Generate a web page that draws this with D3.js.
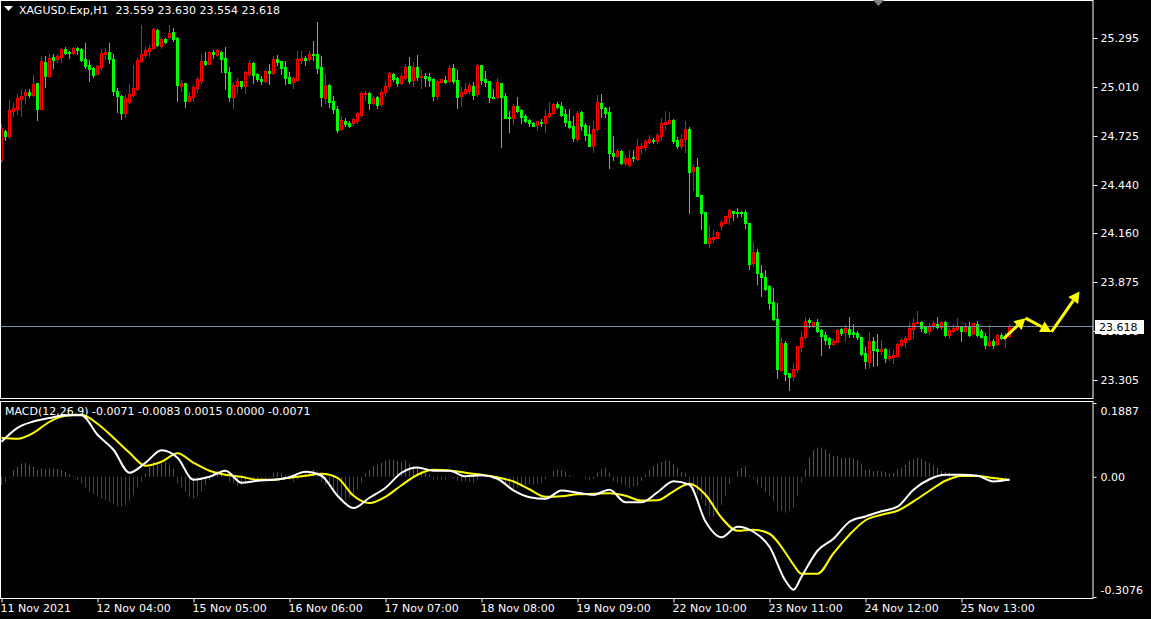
<!DOCTYPE html>
<html><head><meta charset="utf-8">
<script src="https://cdn.jsdelivr.net/npm/d3@7"></script>
<style>html,body{margin:0;padding:0;background:#000;overflow:hidden}svg{display:block}</style>
</head><body>
<svg id="chart" width="1151" height="619"></svg>
<script>
// ---------------- DATA ----------------
const symbolTitle = "XAGUSD.Exp,H1";
const lastOHLC = ["23.559", "23.630", "23.554", "23.618"];
const opens = [24.585,24.754,24.725,24.870,24.882,24.940,24.964,24.981,24.964,25.033,24.882,25.156,25.074,25.185,25.173,25.185,25.231,25.214,25.208,25.237,25.231,25.173,25.138,25.121,25.086,25.127,25.202,25.214,25.173,24.987,24.958,24.859,24.923,24.964,24.998,25.161,25.196,25.220,25.237,25.342,25.248,25.289,25.301,25.330,25.295,25.016,25.033,24.929,24.952,25.004,25.045,25.161,25.144,25.214,25.196,25.214,25.179,25.097,24.952,25.016,25.045,25.016,25.086,25.150,25.086,25.057,25.045,25.103,25.092,25.173,25.161,25.127,25.068,25.039,25.051,25.167,25.179,25.173,25.202,25.202,25.127,24.946,25.022,24.929,24.882,24.766,24.812,24.801,24.801,24.812,24.847,24.969,24.975,24.917,24.952,24.911,24.981,25.016,25.086,25.062,25.033,25.062,25.132,25.051,25.127,25.068,25.074,25.068,25.057,24.958,25.039,25.051,25.045,25.121,25.051,24.958,24.975,24.987,25.016,24.969,25.138,25.057,25.045,24.952,24.952,25.033,24.958,24.835,24.830,24.899,24.876,24.841,24.818,24.801,24.789,24.806,24.801,24.841,24.859,24.911,24.899,24.853,24.812,24.783,24.708,24.865,24.789,24.737,24.667,24.766,24.917,24.888,24.865,24.626,24.608,24.638,24.568,24.556,24.603,24.591,24.655,24.661,24.690,24.702,24.696,24.725,24.795,24.801,24.818,24.702,24.667,24.708,24.766,24.521,24.545,24.382,24.283,24.103,24.126,24.132,24.201,24.219,24.254,24.289,24.283,24.283,24.283,24.219,23.986,24.050,23.928,23.905,23.852,23.760,23.661,23.364,23.521,23.346,23.329,23.370,23.498,23.556,23.655,23.620,23.643,23.597,23.567,23.550,23.515,23.527,23.602,23.585,23.602,23.585,23.579,23.556,23.463,23.410,23.532,23.486,23.474,23.486,23.434,23.439,23.445,23.509,23.527,23.544,23.602,23.637,23.643,23.614,23.591,23.620,23.632,23.614,23.643,23.567,23.591,23.602,23.620,23.591,23.620,23.573,23.632,23.591,23.562,23.509,23.532,23.515,23.567,23.550,23.559];
const highs = [24.795,24.760,24.934,24.917,24.969,24.998,24.998,24.998,25.080,25.033,25.190,25.190,25.202,25.202,25.202,25.237,25.243,25.220,25.240,25.243,25.237,25.266,25.167,25.127,25.138,25.231,25.237,25.266,25.202,25.004,24.964,24.964,25.028,25.138,25.185,25.371,25.243,25.254,25.353,25.348,25.295,25.295,25.371,25.353,25.301,25.051,25.033,24.981,25.022,25.068,25.202,25.214,25.220,25.225,25.231,25.220,25.243,25.127,25.033,25.062,25.045,25.103,25.167,25.156,25.092,25.074,25.109,25.144,25.190,25.196,25.161,25.161,25.097,25.068,25.220,25.220,25.190,25.220,25.278,25.388,25.190,25.086,25.028,24.958,24.899,24.841,24.830,24.812,24.830,24.865,24.981,24.987,24.981,24.958,24.958,24.998,25.045,25.097,25.092,25.068,25.092,25.144,25.185,25.156,25.196,25.109,25.092,25.092,25.062,25.051,25.057,25.074,25.138,25.144,25.109,25.010,25.033,25.033,25.039,25.144,25.138,25.103,25.045,24.998,25.062,25.033,24.975,24.870,24.911,24.952,24.882,24.853,24.824,24.806,24.812,24.824,24.876,24.923,24.917,24.923,24.923,24.882,24.882,24.841,24.870,24.870,24.801,24.783,24.812,24.964,24.969,24.894,24.894,24.725,24.649,24.644,24.614,24.644,24.644,24.708,24.684,24.702,24.731,24.713,24.743,24.830,24.870,24.865,24.824,24.719,24.737,24.812,24.777,24.562,24.597,24.382,24.283,24.202,24.178,24.172,24.236,24.260,24.300,24.289,24.306,24.289,24.295,24.219,24.109,24.068,23.975,23.946,23.858,23.841,23.754,23.556,23.532,23.346,23.405,23.503,23.591,23.672,23.666,23.643,23.661,23.602,23.585,23.556,23.544,23.602,23.608,23.626,23.672,23.632,23.591,23.556,23.498,23.585,23.556,23.573,23.538,23.492,23.486,23.480,23.521,23.550,23.562,23.643,23.666,23.707,23.649,23.620,23.637,23.649,23.672,23.649,23.649,23.608,23.632,23.666,23.620,23.637,23.643,23.637,23.649,23.602,23.579,23.626,23.544,23.573,23.579,23.579,23.630];
const lows = [24.574,24.702,24.713,24.841,24.853,24.841,24.917,24.952,24.958,24.818,24.882,25.010,25.068,25.121,25.156,25.156,25.202,25.179,25.202,25.202,25.161,25.121,25.045,25.068,25.086,25.109,25.173,25.150,24.964,24.865,24.824,24.835,24.917,24.958,24.993,25.156,25.185,25.190,25.231,25.248,25.237,25.266,25.295,25.278,24.929,24.987,24.894,24.923,24.929,24.981,25.033,25.138,25.144,25.179,25.190,25.097,24.998,24.929,24.888,24.975,25.004,24.975,25.080,25.033,25.045,25.028,25.039,25.028,25.086,25.138,25.086,25.028,25.033,25.004,25.045,25.150,25.138,25.167,25.167,25.092,24.899,24.917,24.894,24.859,24.748,24.760,24.783,24.777,24.789,24.801,24.841,24.934,24.882,24.911,24.888,24.899,24.958,25.004,25.045,25.016,25.028,25.057,25.033,25.016,25.051,25.004,25.016,25.016,24.934,24.940,25.039,25.033,25.039,25.033,24.888,24.899,24.969,24.975,24.940,24.958,25.028,25.016,24.923,24.946,24.946,24.661,24.830,24.748,24.795,24.865,24.801,24.806,24.783,24.783,24.760,24.783,24.748,24.835,24.853,24.888,24.841,24.783,24.772,24.696,24.696,24.760,24.702,24.667,24.632,24.760,24.835,24.835,24.539,24.585,24.603,24.562,24.556,24.550,24.579,24.585,24.626,24.644,24.684,24.684,24.684,24.702,24.766,24.801,24.684,24.655,24.655,24.632,24.277,24.411,24.376,24.184,24.103,24.079,24.109,24.132,24.184,24.219,24.213,24.236,24.254,24.260,24.190,23.951,23.969,23.864,23.794,23.829,23.719,23.655,23.317,23.364,23.306,23.248,23.306,23.352,23.474,23.550,23.614,23.614,23.585,23.451,23.515,23.492,23.509,23.527,23.567,23.532,23.556,23.556,23.544,23.451,23.375,23.381,23.387,23.393,23.457,23.410,23.422,23.404,23.439,23.503,23.498,23.538,23.550,23.637,23.591,23.579,23.573,23.608,23.608,23.602,23.562,23.550,23.585,23.597,23.532,23.585,23.562,23.573,23.562,23.556,23.492,23.503,23.492,23.509,23.544,23.498,23.554];
const closes = [24.772,24.725,24.876,24.888,24.946,24.958,24.981,24.964,25.028,24.882,25.161,25.074,25.179,25.167,25.190,25.231,25.208,25.208,25.236,25.225,25.167,25.132,25.115,25.080,25.132,25.208,25.214,25.173,24.987,24.958,24.859,24.946,24.969,25.004,25.167,25.202,25.225,25.237,25.348,25.254,25.289,25.272,25.324,25.289,25.022,25.033,24.929,24.958,25.010,25.057,25.161,25.144,25.214,25.202,25.225,25.173,25.097,24.952,25.022,25.045,25.016,25.097,25.150,25.080,25.057,25.045,25.103,25.092,25.173,25.156,25.121,25.062,25.033,25.062,25.173,25.179,25.167,25.202,25.196,25.121,24.952,25.022,24.923,24.882,24.760,24.818,24.795,24.783,24.824,24.859,24.975,24.975,24.917,24.946,24.905,24.981,25.016,25.092,25.057,25.033,25.074,25.127,25.045,25.127,25.068,25.074,25.062,25.051,24.958,25.045,25.057,25.039,25.121,25.045,24.952,24.981,24.998,25.022,24.964,25.138,25.051,25.039,24.952,24.946,25.039,24.952,24.830,24.830,24.899,24.870,24.835,24.812,24.801,24.783,24.812,24.801,24.841,24.859,24.911,24.894,24.847,24.806,24.777,24.713,24.859,24.783,24.731,24.667,24.766,24.923,24.888,24.859,24.626,24.608,24.638,24.568,24.597,24.597,24.597,24.667,24.667,24.696,24.708,24.696,24.731,24.801,24.806,24.818,24.696,24.667,24.708,24.766,24.516,24.545,24.376,24.277,24.103,24.132,24.138,24.167,24.225,24.260,24.295,24.277,24.277,24.277,24.219,23.980,24.050,23.928,23.905,23.835,23.754,23.661,23.370,23.521,23.341,23.323,23.370,23.503,23.556,23.649,23.643,23.643,23.591,23.562,23.538,23.515,23.532,23.597,23.579,23.608,23.573,23.573,23.556,23.457,23.416,23.532,23.480,23.474,23.486,23.434,23.445,23.451,23.515,23.538,23.550,23.608,23.637,23.643,23.608,23.585,23.620,23.637,23.614,23.643,23.567,23.597,23.608,23.620,23.591,23.614,23.567,23.637,23.567,23.556,23.509,23.532,23.509,23.567,23.550,23.562,23.618];
const timeLabels = ["11 Nov 2021","12 Nov 04:00","15 Nov 05:00","16 Nov 06:00","17 Nov 07:00","18 Nov 08:00","19 Nov 09:00","22 Nov 10:00","23 Nov 11:00","24 Nov 12:00","25 Nov 13:00"];
const timeLabelBars = [0,24,48,72,96,120,144,168,192,216,240];
const priceTicks = [25.295,25.010,24.725,24.440,24.160,23.875,23.590,23.305];
const currentPrice = 23.618;
const macdTicks = [0.1887, 0, -0.3076];
const macdTickText = ["0.1887","0.00","-0.3076"];
const macdLegend = "MACD(12,26,9) -0.0071 -0.0083 0.0015 0.0000 -0.0071";
const macdBars = [0,4,8,12,16,20,24,28,32,36,40,44,48,52,56,60,64,68,72,76,80,84,88,92,96,100,104,108,112,116,120,124,128,132,136,140,144,148,152,156,160,164,168,172,176,180,184,188,192,196,198,200,204,208,212,216,220,224,228,232,236,240,244,248,252];
const macdMain = [0.0895,0.1253,0.1414,0.1501,0.1573,0.1573,0.1074,0.0691,0.0102,0.0358,0.0678,0.0486,-0.0077,0.0000,0.0153,-0.0153,-0.0102,-0.0077,-0.0013,0.0128,0.0026,-0.0486,-0.0801,-0.0537,-0.0281,0.0102,0.0238,0.0153,0.0153,0.0013,0.0038,-0.0051,-0.0350,-0.0524,-0.0563,-0.0350,-0.0409,-0.0460,-0.0332,-0.0652,-0.0652,-0.0396,-0.0115,-0.0205,-0.1143,-0.1547,-0.1279,-0.1407,-0.1790,-0.2660,-0.2890,-0.2558,-0.1893,-0.1586,-0.1151,-0.1015,-0.0882,-0.0767,-0.0332,-0.0064,0.0051,0.0051,0.0026,-0.0120,-0.0071];
const macdSignal = [0.0997,0.0972,0.1125,0.1407,0.1560,0.1586,0.1355,0.0997,0.0614,0.0281,0.0384,0.0601,0.0358,0.0153,0.0051,0.0000,-0.0077,-0.0077,-0.0026,0.0026,0.0077,-0.0026,-0.0486,-0.0673,-0.0512,-0.0217,0.0051,0.0179,0.0161,0.0102,0.0051,-0.0013,-0.0120,-0.0320,-0.0512,-0.0499,-0.0448,-0.0435,-0.0422,-0.0486,-0.0609,-0.0601,-0.0371,-0.0179,-0.0460,-0.1049,-0.1381,-0.1355,-0.1458,-0.1944,-0.2251,-0.2481,-0.2481,-0.1957,-0.1483,-0.1113,-0.0972,-0.0870,-0.0632,-0.0358,-0.0102,0.0020,0.0020,-0.0033,-0.0083];
const macdHist = [-0.0205,-0.0128,-0.0026,0.0171,0.0256,0.0340,0.0358,0.0299,0.0256,0.0171,0.0212,0.0187,0.0212,0.0212,0.0197,0.0171,0.0128,0.0069,0.0018,-0.0084,-0.0171,-0.0274,-0.0384,-0.0443,-0.0512,-0.0555,-0.0596,-0.0640,-0.0683,-0.0750,-0.0767,-0.0724,-0.0614,-0.0468,-0.0274,-0.0128,0.0084,0.0256,0.0384,0.0325,0.0340,0.0384,0.0299,0.0212,-0.0171,-0.0274,-0.0384,-0.0512,-0.0555,-0.0512,-0.0384,-0.0212,-0.0084,0.0128,0.0171,0.0128,0.0043,-0.0128,-0.0171,-0.0238,-0.0212,-0.0171,-0.0128,-0.0084,-0.0084,-0.0043,-0.0043,-0.0026,0.0102,0.0128,0.0102,0.0043,-0.0084,-0.0128,-0.0069,-0.0026,0.0084,0.0128,0.0171,0.0128,-0.0128,-0.0212,-0.0256,-0.0340,-0.0450,-0.0580,-0.0600,-0.0530,-0.0440,-0.0324,-0.0150,0.0084,0.0171,0.0274,0.0315,0.0358,0.0417,0.0443,0.0427,0.0402,0.0376,0.0417,0.0340,0.0274,0.0230,0.0146,0.0102,0.0059,-0.0069,-0.0069,-0.0069,-0.0069,-0.0008,-0.0043,-0.0095,-0.0110,-0.0110,-0.0136,-0.0153,-0.0069,0.0000,0.0013,0.0000,-0.0069,-0.0110,-0.0136,-0.0197,-0.0307,-0.0325,-0.0281,-0.0256,-0.0223,-0.0197,-0.0197,-0.0171,-0.0153,-0.0069,0.0000,0.0146,0.0187,0.0171,0.0120,0.0033,0.0008,-0.0008,0.0000,-0.0051,-0.0095,-0.0051,0.0102,0.0187,0.0230,0.0102,-0.0110,-0.0153,-0.0197,-0.0223,-0.0281,-0.0256,-0.0223,-0.0110,0.0059,0.0187,0.0274,0.0340,0.0376,0.0417,0.0402,0.0315,0.0230,0.0120,0.0090,-0.0153,-0.0281,-0.0453,-0.0581,-0.0750,-0.1023,-0.1023,-0.0921,-0.0734,-0.0494,-0.0197,0.0000,0.0146,0.0230,0.0274,0.0033,-0.0043,-0.0197,-0.0281,-0.0391,-0.0494,-0.0622,-0.0877,-0.0877,-0.0921,-0.0852,-0.0793,-0.0494,-0.0136,0.0187,0.0486,0.0683,0.0742,0.0742,0.0698,0.0596,0.0530,0.0530,0.0486,0.0486,0.0486,0.0460,0.0427,0.0315,0.0171,0.0187,0.0146,0.0146,0.0146,0.0120,0.0084,0.0102,0.0187,0.0230,0.0299,0.0402,0.0443,0.0486,0.0460,0.0402,0.0358,0.0289,0.0230,0.0146,0.0120,0.0084,0.0018,0.0005,0.0000,0.0000,0.0000,-0.0013,0.0000,-0.0026,-0.0051,-0.0077,-0.0102,-0.0102,-0.0077,-0.0077,0.0015];
// arrow objects (anchored to bar index and price)
const arrowBars = [250.5, 256, 262.5, 269.5];
const arrowPrices = [23.545, 23.665, 23.585, 23.820];

// ---------------- DRAW ----------------
const W = 1151, H = 619;
const n = opens.length;
const plotRight = 1093;
const mainTop = 0, mainBottom = 398;
const subTop = 401, subBottom = 598;
const svg = d3.select("#chart");
svg.append("rect").attr("width", W).attr("height", H).attr("fill", "#000");

const xLeft = d3.scaleLinear().domain([0, n]).range([0, 4 * n]);
const xc = i => xLeft(i) + 1.5;
const yP = d3.scaleLinear().domain([23.305, 25.295]).range([380, 38]);
const yM = d3.scaleLinear().domain([-0.3076, 0.1887]).range([597, 403]);

const defs = svg.append("defs");
defs.append("clipPath").attr("id", "mainClip").append("rect").attr("x", 0).attr("y", 1).attr("width", plotRight).attr("height", mainBottom - 1);
defs.append("clipPath").attr("id", "subClip").append("rect").attr("x", 0).attr("y", subTop + 1).attr("width", plotRight).attr("height", subBottom - subTop - 1);

// ---- candles ----
const gC = svg.append("g").attr("clip-path", "url(#mainClip)");
const idx = d3.range(n);
idx.forEach(i => {
  const o = opens[i], c = closes[i], h = highs[i], l = lows[i];
  const bull = c >= o;
  const col = bull ? "#ff0000" : "#00ff00";
  const x0 = xLeft(i);
  const yT = Math.round(yP(Math.max(o, c)));
  const yB = Math.round(yP(Math.min(o, c)));
  const yH = Math.round(yP(h));
  const yL = Math.round(yP(l));
  const cx = x0 + 1.5;
  gC.append("line").attr("x1", cx).attr("x2", cx).attr("y1", yH).attr("y2", yL + 1)
    .attr("stroke", col).attr("stroke-width", 1);
  if (bull) {
    if (yB - yT < 1) {
      gC.append("rect").attr("x", x0).attr("y", yT).attr("width", 3).attr("height", 1).attr("fill", col);
    } else {
      gC.append("rect").attr("x", x0 + 0.5).attr("y", yT + 0.5).attr("width", 2).attr("height", yB - yT)
        .attr("fill", "#000").attr("stroke", col).attr("stroke-width", 1);
    }
  } else {
    gC.append("rect").attr("x", x0).attr("y", yT).attr("width", 3).attr("height", Math.max(1, yB - yT + 1))
      .attr("fill", col);
  }
});

// ---- current price line ----
svg.append("line").attr("x1", 0).attr("x2", plotRight).attr("y1", Math.round(yP(currentPrice)) + 0.5).attr("y2", Math.round(yP(currentPrice)) + 0.5)
  .attr("stroke", "#8090a0").attr("stroke-width", 1);

// ---- arrows ----
const gA = svg.append("g");
function arrow(x1, y1, x2, y2) {
  const ang = Math.atan2(y2 - y1, x2 - x1);
  const len = Math.hypot(x2 - x1, y2 - y1);
  const hl = 11, hw = 6;
  const bx = x2 - Math.cos(ang) * hl, by = y2 - Math.sin(ang) * hl;
  const px = -Math.sin(ang), py = Math.cos(ang);
  gA.append("line").attr("x1", x1).attr("y1", y1).attr("x2", bx).attr("y2", by)
    .attr("stroke", "#ffff00").attr("stroke-width", 3);
  gA.append("path").attr("d", `M${x2},${y2}L${bx + px * hw},${by + py * hw}L${bx - px * hw},${by - py * hw}Z`).attr("fill", "#ffff00");
}
for (let k = 0; k < arrowBars.length - 1; k++) {
  arrow(xc(arrowBars[k]), yP(arrowPrices[k]), xc(arrowBars[k + 1]), yP(arrowPrices[k + 1]));
}

// ---- MACD panel ----
const gM = svg.append("g").attr("clip-path", "url(#subClip)");
idx.forEach(i => {
  const v = macdHist[i];
  if (v === 0) return;
  gM.append("line").attr("x1", xc(i)).attr("x2", xc(i)).attr("y1", yM(0)).attr("y2", yM(v))
    .attr("stroke", v > 0 ? "#dc143c" : "#0b6b0b").attr("stroke-width", 1);
});
const lineGen = d3.line().x(d => xc(d[0])).y(d => yM(d[1])).curve(d3.curveMonotoneX);
gM.append("path").datum(macdBars.map((b, k) => [b, macdSignal[k]])).attr("d", lineGen)
  .attr("fill", "none").attr("stroke", "#ffff00").attr("stroke-width", 2);
gM.append("path").datum(macdBars.map((b, k) => [b, macdMain[k]])).attr("d", lineGen)
  .attr("fill", "none").attr("stroke", "#ffffff").attr("stroke-width", 2);

// ---- frames ----
svg.append("rect").attr("x", 0.5).attr("y", 0.5).attr("width", plotRight - 0.5).attr("height", mainBottom)
  .attr("fill", "none").attr("stroke", "#ffffff");
svg.append("rect").attr("x", 0.5).attr("y", subTop + 0.5).attr("width", plotRight - 0.5).attr("height", subBottom - subTop)
  .attr("fill", "none").attr("stroke", "#ffffff");

const font = "DejaVu Sans, Verdana, sans-serif";

// ---- price axis ----
const pAxis = svg.append("g").attr("transform", `translate(${plotRight + 0.5},0)`)
  .call(d3.axisRight(yP).tickValues(priceTicks).tickSize(4).tickPadding(3).tickFormat(d3.format(".3f")));
pAxis.select(".domain").remove();
pAxis.selectAll("line").attr("stroke", "#fff");
pAxis.selectAll("text").attr("fill", "#fff").style("font", `11px ${font}`);

// current price label
const cpY = Math.round(yP(currentPrice));
svg.append("rect").attr("x", 1095).attr("y", cpY - 6).attr("width", 49).attr("height", 14).attr("fill", "#fff");
svg.append("text").attr("x", 1099).attr("y", cpY + 5).attr("fill", "#000").style("font", `11px ${font}`).text(currentPrice.toFixed(3));

// ---- MACD axis ----
const mAxis = svg.append("g").attr("transform", `translate(${plotRight + 0.5},0)`)
  .call(d3.axisRight(yM).tickValues(macdTicks).tickSize(3).tickPadding(4).tickFormat((d, k) => macdTickText[k]));
mAxis.select(".domain").remove();
mAxis.selectAll("line").attr("stroke", "#fff");
mAxis.selectAll("text").attr("fill", "#fff").style("font", `11px ${font}`)
  .attr("dy", (d, k) => k === 0 ? "1.0em" : (k === 2 ? "-0.3em" : "0.32em"));

// ---- time axis ----
const xcScale = d3.scaleLinear().domain([0, n]).range([1.5, 4 * n + 1.5]);
const tAxis = svg.append("g").attr("transform", `translate(0,${subBottom + 0.5})`)
  .call(d3.axisBottom(xcScale).tickValues(timeLabelBars).tickSize(4).tickFormat((d, k) => timeLabels[k]));
tAxis.select(".domain").remove();
tAxis.selectAll("line").attr("stroke", "#fff");
tAxis.selectAll("text").attr("fill", "#fff").style("font", `11px ${font}`)
  .attr("text-anchor", "start").attr("x", -1.5).attr("y", 6);

// ---- header ----
svg.append("path").attr("d", "M4,6L13,6L8.5,11Z").attr("fill", "#fff");
svg.append("text").attr("x", 19).attr("y", 14).attr("fill", "#fff").style("font", `11px ${font}`)
  .attr("xml:space", "preserve").text(symbolTitle + "  " + lastOHLC.join(" "));
svg.append("path").attr("d", "M873,0L884,0L878.5,6Z").attr("fill", "#7f7f7f");

// MACD legend
svg.append("text").attr("x", 5).attr("y", 415).attr("fill", "#fff").style("font", `11px ${font}`).text(macdLegend);
</script>
</body></html>
